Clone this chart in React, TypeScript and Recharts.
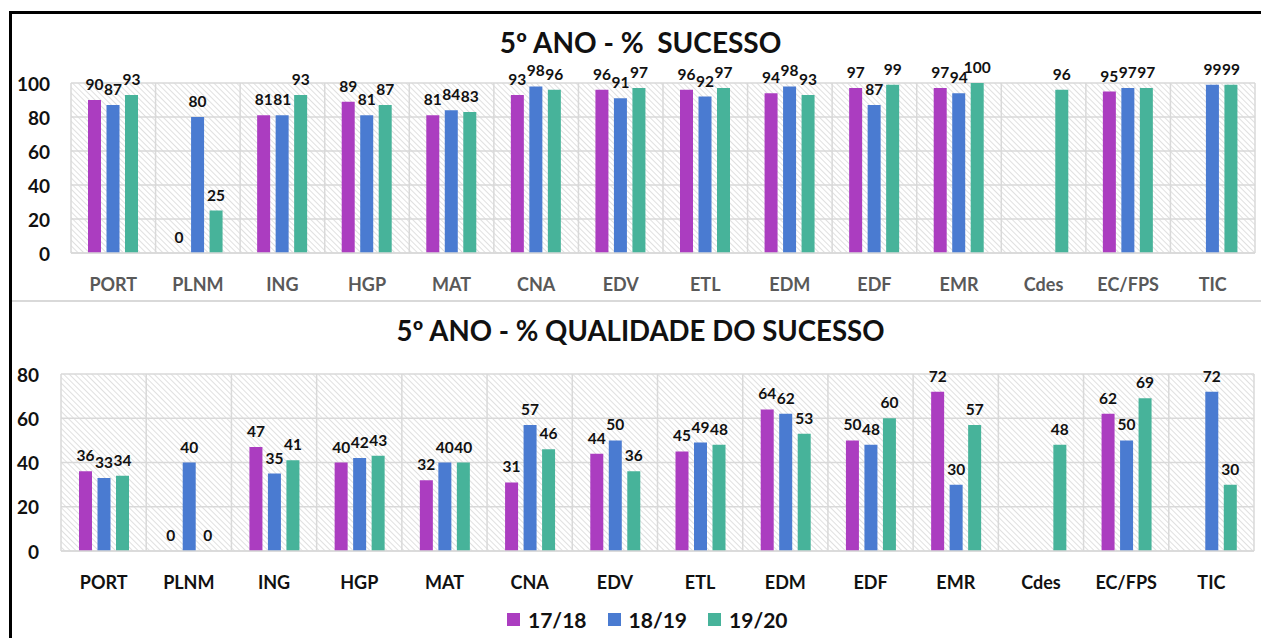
import { BarChart, Bar, XAxis, YAxis, CartesianGrid, LabelList } from "recharts";

const categories = ["PORT", "PLNM", "ING", "HGP", "MAT", "CNA", "EDV", "ETL", "EDM", "EDF", "EMR", "Cdes", "EC/FPS", "TIC"];
const seriesNames = ["17/18", "18/19", "19/20"];
const seriesColors = ["#AB3DC0", "#4A7BD1", "#47B39A"];

// 5º ano - % sucesso
const success1718 = [90, 0, 81, 89, 81, 93, 96, 96, 94, 97, 97, null, 95, null];
const success1819 = [87, 80, 81, 81, 84, 98, 91, 92, 98, 87, 94, null, 97, 99];
const success1920 = [93, 25, 93, 87, 83, 96, 97, 97, 93, 99, 100, 96, 97, 99];
const successTicks = [0, 20, 40, 60, 80, 100];

// 5º ano - % qualidade do sucesso
const quality1718 = [36, 0, 47, 40, 32, 31, 44, 45, 64, 50, 72, null, 62, null];
const quality1819 = [33, 40, 35, 42, 40, 57, 50, 49, 62, 48, 30, null, 50, 72];
const quality1920 = [34, 0, 41, 43, 40, 46, 36, 48, 53, 60, 57, 48, 69, 30];
const qualityTicks = [0, 20, 40, 60, 80];

const FONT = "Lato, 'Open Sans', sans-serif";

const buildRows = (a: (number | null)[], b: (number | null)[], c: (number | null)[]) =>
  categories.map((cat, i) => ({ cat, s0: a[i], s1: b[i], s2: c[i] }));

const successData = buildRows(success1718, success1819, success1920);
const qualityData = buildRows(quality1718, quality1819, quality1920);

// zero values still need a (invisible) bar so their "0" label gets drawn
const zeroMinSize = (value: any) => (value === 0 ? 0.01 : 0);

const renderLabel = (props: any) => {
  const { x, y, width, value } = props;
  if (value === null || value === undefined) return null;
  return (
    <text
      x={x + width / 2}
      y={y - 16}
      textAnchor="middle"
      dominantBaseline="central"
      fontFamily={FONT}
      fontWeight={700}
      fontSize={15.5}
      fill="#111"
    >
      {value}
    </text>
  );
};

interface PanelProps {
  data: any[];
  id: string;
  height: number;
  margin: { top: number; right: number; bottom: number; left: number };
  yWidth: number;
  yMax: number;
  ticks: number[];
  yLabelGap: number;
  xColor: string;
}

function Panel({ data, id, height, margin, yWidth, yMax, ticks, yLabelGap, xColor }: PanelProps) {
  const XTick = ({ x, y, payload }: any) => (
    <text
      x={x}
      y={y + 29}
      textAnchor="middle"
      dominantBaseline="central"
      fontFamily={FONT}
      fontWeight={700}
      fontSize={18}
      fill={xColor}
    >
      {payload.value}
    </text>
  );

  const YTick = ({ x, y, payload }: any) => (
    <text
      x={x - yLabelGap}
      y={y}
      textAnchor="end"
      dominantBaseline="central"
      fontFamily={FONT}
      fontWeight={700}
      fontSize={19}
      fill="#111"
    >
      {payload.value}
    </text>
  );

  return (
    <BarChart width={1261} height={height} data={data} margin={margin} barSize={13} barGap={5.5}>
      <defs>
        <pattern id={id} width={4} height={4} patternUnits="userSpaceOnUse" patternTransform="rotate(-45)">
          <rect width={4} height={4} fill="#ffffff" />
          <line x1={0} y1={0} x2={0} y2={4} stroke="#cfcfcf" strokeWidth={1.3} />
        </pattern>
      </defs>
      <CartesianGrid
        stroke="#D9D9D9"
        strokeWidth={1.5}
        fill={`url(#${id})`}
        fillOpacity={1}
        verticalCoordinatesGenerator={({ offset }: any) =>
          Array.from({ length: categories.length + 1 }, (_, i) => offset.left + (i * offset.width) / categories.length)
        }
      />
      <XAxis
        dataKey="cat"
        interval={0}
        height={30}
        tickLine={false}
        tickSize={0}
        axisLine={{ stroke: "#D9D9D9", strokeWidth: 1.5 }}
        tick={<XTick />}
      />
      <YAxis
        domain={[0, yMax]}
        ticks={ticks}
        width={yWidth}
        axisLine={false}
        tickLine={false}
        tickSize={0}
        tick={<YTick />}
      />
      {["s0", "s1", "s2"].map((key, i) => (
        <Bar
          key={key}
          dataKey={key}
          name={seriesNames[i]}
          fill={seriesColors[i]}
          minPointSize={zeroMinSize}
          isAnimationActive={false}
        >
          <LabelList dataKey={key} content={renderLabel} />
        </Bar>
      ))}
    </BarChart>
  );
}

const titleStyle = (top: number, size: number): React.CSSProperties => ({
  position: "absolute",
  left: 10,
  top,
  width: 1261,
  textAlign: "center",
  fontFamily: FONT,
  fontWeight: 700,
  fontSize: size,
  lineHeight: "28px",
  color: "#111",
  whiteSpace: "pre",
});

export default function App() {
  return (
    <div
      style={{
        position: "absolute",
        left: 0,
        top: 0,
        width: 1261,
        height: 638,
        overflow: "hidden",
        background: "#fff",
      }}
    >
      <div style={{ position: "absolute", left: 0, top: 0 }}>
        <Panel
          data={successData}
          id="hatchTop"
          height={300}
          margin={{ top: 83, right: 6, bottom: 17, left: 0 }}
          yWidth={71}
          yMax={100}
          ticks={successTicks}
          yLabelGap={19}
          xColor="#595959"
        />
      </div>
      <div style={{ position: "absolute", left: 0, top: 300 }}>
        <Panel
          data={qualityData}
          id="hatchBottom"
          height={338}
          margin={{ top: 74, right: 7, bottom: 57, left: 0 }}
          yWidth={61}
          yMax={80}
          ticks={qualityTicks}
          yLabelGap={20}
          xColor="#111"
        />
      </div>

      <div style={titleStyle(28, 28)}>5º ANO - %  SUCESSO</div>
      <div style={titleStyle(317, 27.6)}>5º ANO - % QUALIDADE DO SUCESSO</div>

      <div style={{ position: "absolute", left: 12, top: 300, width: 1249, height: 1.5, background: "#D9D9D9" }} />

      <div
        style={{
          position: "absolute",
          left: 507,
          top: 607,
          height: 24,
          display: "flex",
          alignItems: "center",
          fontFamily: FONT,
          fontWeight: 700,
          fontSize: 21,
          color: "#111",
        }}
      >
        {seriesNames.map((name, i) => (
          <div key={name} style={{ display: "flex", alignItems: "center", marginRight: 21 }}>
            <span style={{ width: 13, height: 13, background: seriesColors[i], display: "inline-block", marginRight: 8 }} />
            <span>{name}</span>
          </div>
        ))}
      </div>

      <div
        style={{
          position: "absolute",
          left: 9,
          top: 11,
          width: 1400,
          height: 800,
          borderLeft: "3px solid #000",
          borderTop: "3px solid #000",
          boxSizing: "border-box",
          pointerEvents: "none",
        }}
      />
    </div>
  );
}
